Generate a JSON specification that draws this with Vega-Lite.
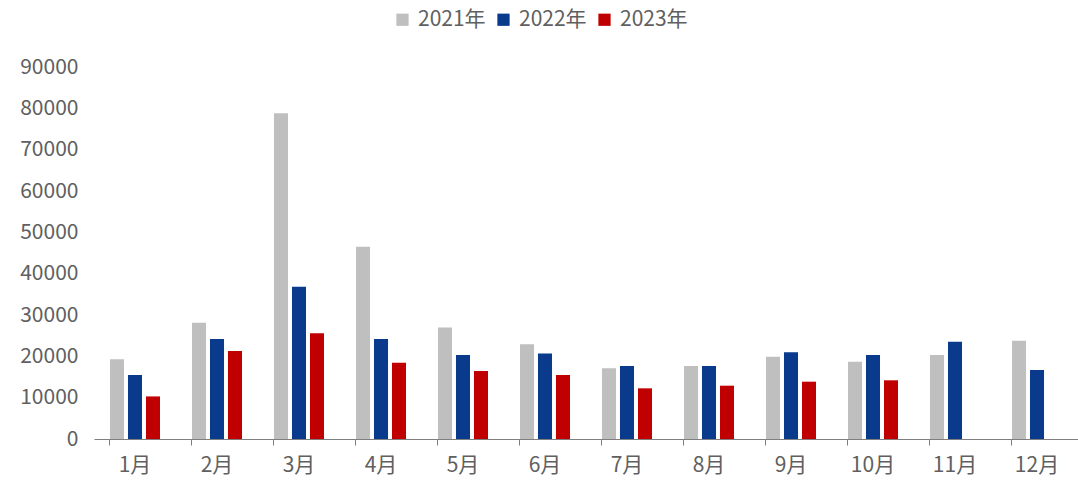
{
  "$schema": "https://vega.github.io/schema/vega-lite/v6.json",
  "width": 984,
  "height": 372,
  "autosize": {"type": "none"},
  "padding": {"left": 94, "top": 67, "right": 0, "bottom": 45},
  "background": "white",
  "config": {
    "view": {"stroke": null},
    "font": "Noto Sans CJK SC"
  },
  "data": {
    "values": [
      {"month": "1月", "year": "2021年", "value": 19300},
      {"month": "1月", "year": "2022年", "value": 15500},
      {"month": "1月", "year": "2023年", "value": 10300},
      {"month": "2月", "year": "2021年", "value": 28150},
      {"month": "2月", "year": "2022年", "value": 24200},
      {"month": "2月", "year": "2023年", "value": 21300},
      {"month": "3月", "year": "2021年", "value": 78800},
      {"month": "3月", "year": "2022年", "value": 36850},
      {"month": "3月", "year": "2023年", "value": 25570},
      {"month": "4月", "year": "2021年", "value": 46500},
      {"month": "4月", "year": "2022年", "value": 24200},
      {"month": "4月", "year": "2023年", "value": 18470},
      {"month": "5月", "year": "2021年", "value": 27000},
      {"month": "5月", "year": "2022年", "value": 20300},
      {"month": "5月", "year": "2023年", "value": 16450},
      {"month": "6月", "year": "2021年", "value": 22900},
      {"month": "6月", "year": "2022年", "value": 20700},
      {"month": "6月", "year": "2023年", "value": 15500},
      {"month": "7月", "year": "2021年", "value": 17100},
      {"month": "7月", "year": "2022年", "value": 17660},
      {"month": "7月", "year": "2023年", "value": 12260},
      {"month": "8月", "year": "2021年", "value": 17660},
      {"month": "8月", "year": "2022年", "value": 17660},
      {"month": "8月", "year": "2023年", "value": 12900},
      {"month": "9月", "year": "2021年", "value": 19920},
      {"month": "9月", "year": "2022年", "value": 20970},
      {"month": "9月", "year": "2023年", "value": 13870},
      {"month": "10月", "year": "2021年", "value": 18710},
      {"month": "10月", "year": "2022年", "value": 20320},
      {"month": "10月", "year": "2023年", "value": 14200},
      {"month": "11月", "year": "2021年", "value": 20320},
      {"month": "11月", "year": "2022年", "value": 23550},
      {"month": "12月", "year": "2021年", "value": 23790},
      {"month": "12月", "year": "2022年", "value": 16690}
    ]
  },
  "mark": {"type": "bar"},
  "encoding": {
    "x": {
      "field": "month",
      "type": "nominal",
      "sort": null,
      "title": null,
      "scale": {"paddingInner": 0.39, "paddingOuter": 0.195},
      "axis": {
        "labelAngle": 0,
        "labelFontSize": 21,
        "labelColor": "#606060",
        "labelPadding": 9,
        "domainColor": "#7f7f7f",
        "domainWidth": 1,
        "tickColor": "#7f7f7f",
        "tickSize": 6,
        "bandPosition": 0,
        "grid": false
      }
    },
    "xOffset": {
      "field": "year",
      "type": "nominal",
      "sort": ["2021年", "2022年", "2023年"],
      "scale": {"paddingInner": 0.22, "paddingOuter": 0}
    },
    "y": {
      "field": "value",
      "type": "quantitative",
      "title": null,
      "scale": {"domain": [0, 90000], "nice": false},
      "axis": {
        "values": [0, 10000, 20000, 30000, 40000, 50000, 60000, 70000, 80000, 90000],
        "format": "d",
        "labelFontSize": 21,
        "labelColor": "#606060",
        "labelPadding": 16,
        "ticks": false,
        "domain": false,
        "grid": false
      }
    },
    "color": {
      "field": "year",
      "type": "nominal",
      "title": null,
      "scale": {
        "domain": ["2021年", "2022年", "2023年"],
        "range": ["#bfbfbf", "#0a3a8c", "#c00000"]
      },
      "legend": {
        "orient": "none",
        "direction": "horizontal",
        "legendX": 298,
        "legendY": -58,
        "symbolType": "square",
        "symbolSize": 150,
        "symbolStrokeWidth": 0,
        "labelFontSize": 21,
        "labelColor": "#606060",
        "labelOffset": 5,
        "columnPadding": 7
      }
    }
  }
}
